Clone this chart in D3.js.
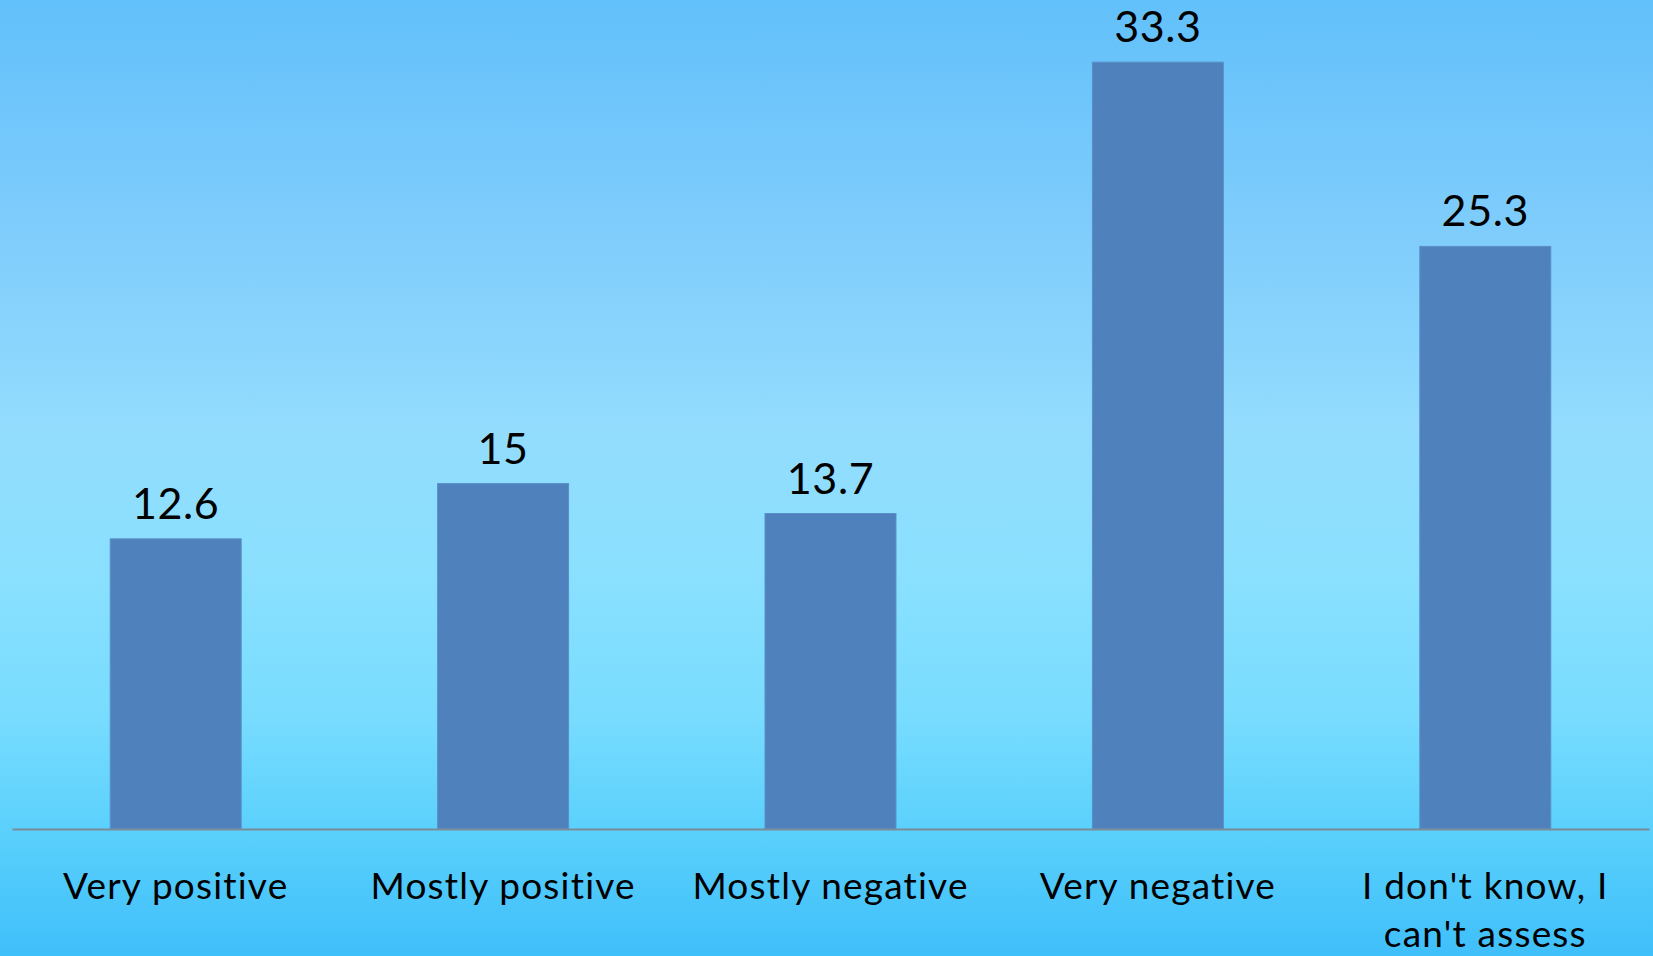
<!DOCTYPE html>
<html><head><meta charset="utf-8">
<script src="https://cdn.jsdelivr.net/npm/d3@7"></script>
<style>html,body{margin:0;padding:0;overflow:hidden;}svg{display:block;}</style>
</head><body>
<script>
const categories = ["Very positive", "Mostly positive", "Mostly negative", "Very negative", "I don't know, I can't assess"];
const categoryLines = [["Very positive"], ["Mostly positive"], ["Mostly negative"], ["Very negative"], ["I don't know, I", "can't assess"]];
const values = [12.6, 15, 13.7, 33.3, 25.3];
const valueLabels = ["12.6", "15", "13.7", "33.3", "25.3"];

const W = 1653, H = 956;
const svg = d3.select("body").append("svg").attr("width", W).attr("height", H);
const defs = svg.append("defs");
const grad = defs.append("linearGradient").attr("id", "bg").attr("x1", 0).attr("y1", 0).attr("x2", 0).attr("y2", 1);
[[0, "#62c0fa"], [0.25, "#80cdfc"], [0.45, "#93dcfe"], [0.6, "#8ae0fe"], [0.75, "#78dcfe"], [0.87, "#5ad0fc"], [1, "#3fbffa"]]
  .forEach(([o, c]) => grad.append("stop").attr("offset", o).attr("stop-color", c));
svg.append("rect").attr("width", W).attr("height", H).attr("fill", "url(#bg)");

const x = d3.scaleBand().domain(categories).range([12, 1649]).paddingInner(0.6).paddingOuter(0.3);
const y = d3.scaleLinear().domain([0, 36]).range([829, 0]);

svg.selectAll("rect.bar").data(values).join("rect").attr("class", "bar")
  .attr("x", (d, i) => x(categories[i]))
  .attr("width", x.bandwidth())
  .attr("y", d => y(d))
  .attr("height", d => y(0) - y(d))
  .attr("fill", "#4f81bd")
  .attr("stroke", "#5a8fc6").attr("stroke-width", 1);

const axis = d3.axisBottom(x).tickSize(0).tickFormat("");
const ag = svg.append("g").attr("transform", `translate(0,${y(0)})`).call(axis);
ag.select(".domain").attr("stroke", "#7a8c9c").attr("stroke-width", 2);

const font = "Lato, 'Open Sans', sans-serif";
svg.selectAll("text.val").data(values).join("text").attr("class", "val")
  .attr("x", (d, i) => x(categories[i]) + x.bandwidth() / 2)
  .attr("y", d => y(d) - 20)
  .attr("text-anchor", "middle")
  .attr("font-family", font).attr("font-size", 43).attr("letter-spacing", 0.6)
  .attr("fill", "#000")
  .text((d, i) => valueLabels[i]);

categories.forEach((c, i) => {
  const t = svg.append("text")
    .attr("x", x(c) + x.bandwidth() / 2)
    .attr("y", 899)
    .attr("text-anchor", "middle")
    .attr("font-family", font).attr("font-size", 37).attr("letter-spacing", 1.2)
    .attr("fill", "#000");
  categoryLines[i].forEach((ln, j) => {
    t.append("tspan").attr("x", x(c) + x.bandwidth() / 2).attr("dy", j === 0 ? 0 : 48).text(ln);
  });
});
</script>
</body></html>
